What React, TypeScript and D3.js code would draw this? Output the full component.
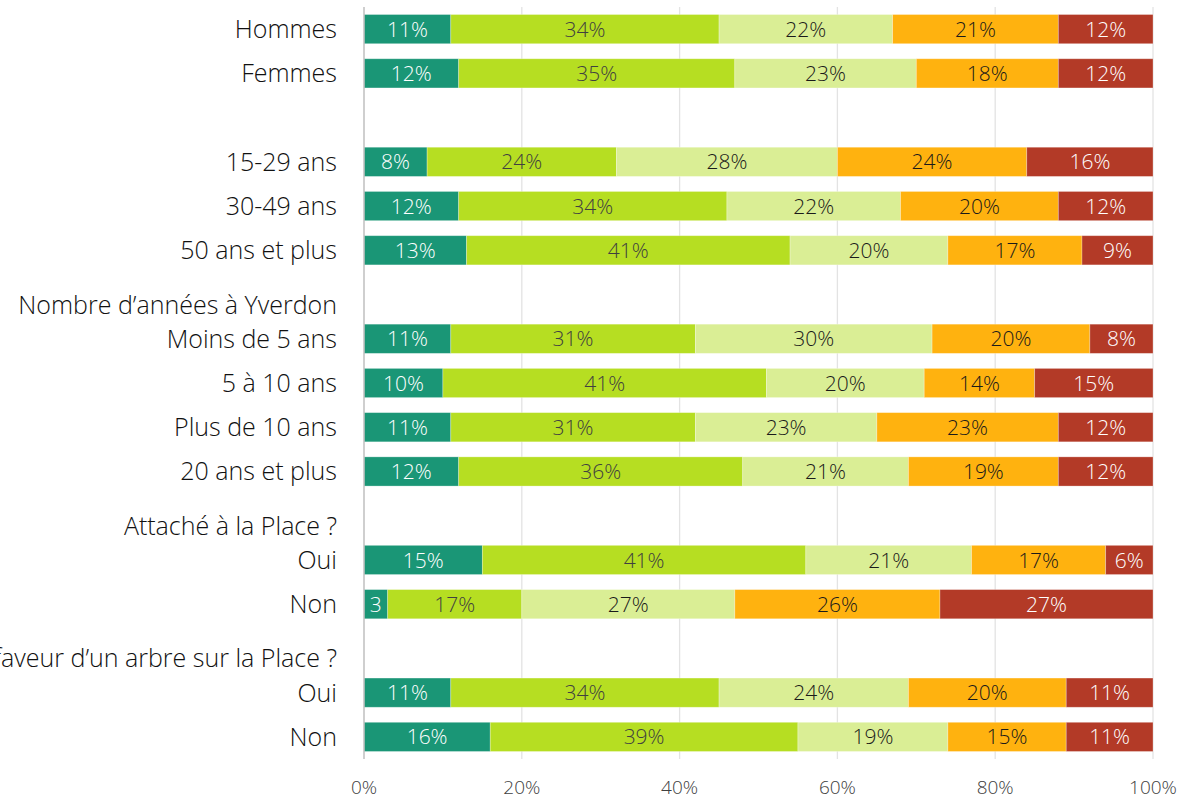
import * as d3 from "d3";
import { useEffect, useRef } from "react";

// lignes du graphique (les en-têtes n'ont pas de barres)
const rowLabels = [
  "Hommes",
  "Femmes",
  "",
  "15-29 ans",
  "30-49 ans",
  "50 ans et plus",
  "Nombre d’années à Yverdon",
  "Moins de 5 ans",
  "5 à 10 ans",
  "Plus de 10 ans",
  "20 ans et plus",
  "Attaché à la Place ?",
  "Oui",
  "Non",
  "En faveur d’un arbre sur la Place ?",
  "Oui",
  "Non",
];
const headerRows = [6, 11, 14];
const emptyRows = [2];

// parts en % pour les 5 modalités, une ligne par catégorie (null = en-tête / vide)
const sharesA = [11, 12, null, 8, 12, 13, null, 11, 10, 11, 12, null, 15, 3, null, 11, 16];
const sharesB = [34, 35, null, 24, 34, 41, null, 31, 41, 31, 36, null, 41, 17, null, 34, 39];
const sharesC = [22, 23, null, 28, 22, 20, null, 30, 20, 23, 21, null, 21, 27, null, 24, 19];
const sharesD = [21, 18, null, 24, 20, 17, null, 20, 14, 23, 19, null, 17, 26, null, 20, 15];
const sharesE = [12, 12, null, 16, 12, 9, null, 8, 15, 12, 12, null, 6, 27, null, 11, 11];

const seriesColors = ["#1a9676", "#b6de22", "#daee95", "#ffb20f", "#b33a27"];
const textColors = ["#ffffff", "#404040", "#1a1a1a", "#1a1a1a", "#ffffff"];
const xTicks = [0, 20, 40, 60, 80, 100];

const W = 1180;
const H = 800;

export default function App() {
  const svgRef = useRef<SVGSVGElement | null>(null);

  useEffect(() => {
    if (!svgRef.current) return;
    const svg = d3.select(svgRef.current);
    svg.selectAll("*").remove();

    const margin = { top: 7, right: 27, bottom: 41, left: 364 };
    const innerW = W - margin.left - margin.right;
    const innerH = H - margin.top - margin.bottom;

    const x = d3.scaleLinear().domain([0, 100]).range([0, innerW]);
    const y = d3
      .scaleBand<number>()
      .domain(d3.range(rowLabels.length))
      .range([0, innerH])
      .paddingInner(0.34)
      .paddingOuter(0.17);

    const g = svg
      .append("g")
      .attr("transform", `translate(${margin.left},${margin.top})`);

    // grille verticale
    g.selectAll(".grid")
      .data(xTicks.filter((t) => t > 0))
      .enter()
      .append("line")
      .attr("x1", (d) => x(d))
      .attr("x2", (d) => x(d))
      .attr("y1", 0)
      .attr("y2", innerH)
      .attr("stroke", "#e3e3e3")
      .attr("stroke-width", 1.3);

    // étiquettes de l'axe X
    g.selectAll(".xtick")
      .data(xTicks)
      .enter()
      .append("text")
      .attr("x", (d) => x(d))
      .attr("y", innerH + 35)
      .attr("text-anchor", "middle")
      .attr("font-size", "19px")
      .attr("font-weight", 300)
      .attr("fill", "#404040")
      .text((d) => `${d}%`);

    const allSeries = [sharesA, sharesB, sharesC, sharesD, sharesE];

    rowLabels.forEach((_, i) => {
      if (headerRows.includes(i) || emptyRows.includes(i)) return;
      const vals = allSeries.map((s) => s[i] as number);
      let acc = 0;
      vals.forEach((v, k) => {
        const x0 = acc;
        acc += v;
        g.append("rect")
          .attr("x", x(x0))
          .attr("y", y(i)!)
          .attr("width", x(acc) - x(x0))
          .attr("height", y.bandwidth())
          .attr("fill", seriesColors[k])
          .attr("stroke", "rgba(255,255,255,0.35)")
          .attr("stroke-width", 0.8);
        g.append("text")
          .attr("x", (x(x0) + x(acc)) / 2)
          .attr("y", y(i)! + y.bandwidth() / 2)
          .attr("dy", "0.36em")
          .attr("text-anchor", "middle")
          .attr("font-size", "21px")
          .attr("font-weight", 300)
          .attr("fill", textColors[k])
          .text(v < 5 ? `${v}` : `${v}%`);
      });
    });

    // axe vertical
    g.append("line")
      .attr("x1", 0)
      .attr("x2", 0)
      .attr("y1", 0)
      .attr("y2", innerH)
      .attr("stroke", "#bfbfbf")
      .attr("stroke-width", 1.5);

    // libellés des catégories
    g.selectAll(".ylabel")
      .data(rowLabels)
      .enter()
      .append("text")
      .attr("x", -27)
      .attr("y", (_, i) => y(i)! + y.bandwidth() / 2 + (headerRows.includes(i) ? 10 : 0))
      .attr("dy", "0.36em")
      .attr("text-anchor", "end")
      .attr("font-size", "25px")
      .attr("font-weight", 300)
      .attr("fill", "#111111")
      .text((d) => d);
  }, []);

  return (
    <svg
      ref={svgRef}
      width={W}
      height={H}
      style={{
        position: "absolute",
        left: 0,
        top: 0,
        background: "#ffffff",
        fontFamily: "'Open Sans', sans-serif",
      }}
    />
  );
}
